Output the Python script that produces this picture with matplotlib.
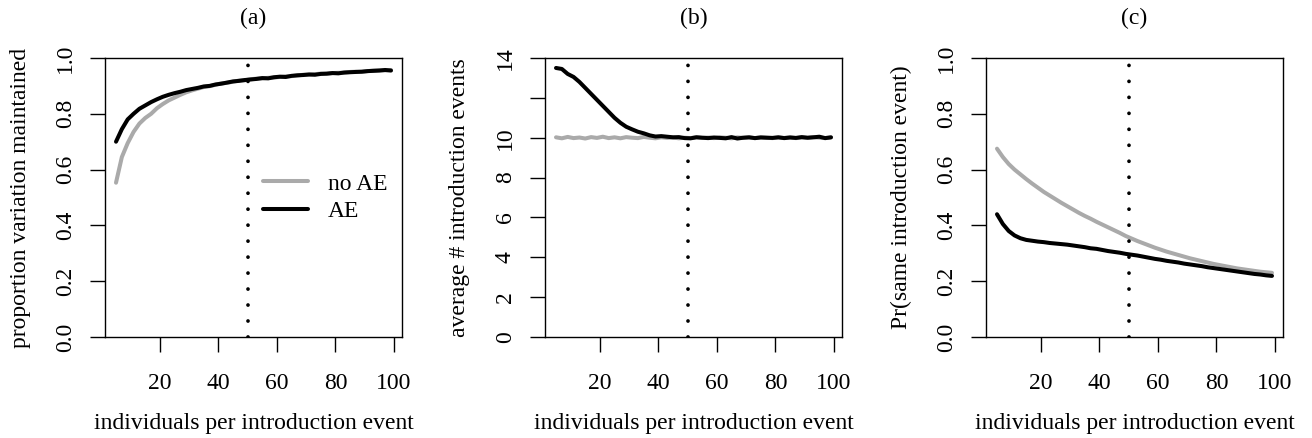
import numpy as np
import matplotlib
matplotlib.use("Agg")
from matplotlib import pyplot as plt

plt.rcParams['font.family'] = ['Liberation Serif', 'DejaVu Serif']

# individuals per introduction event (every 2nd value)
n_ind = list(range(5, 100, 2))

# (a) proportion variation maintained
prop_noae = [0.553, 0.645, 0.695, 0.735, 0.765, 0.785, 0.800, 0.820, 0.835, 0.848,
             0.858, 0.868, 0.877, 0.884, 0.890, 0.896, 0.899, 0.904, 0.909, 0.911,
             0.915, 0.919, 0.920, 0.924, 0.926, 0.927, 0.929, 0.930, 0.932, 0.934,
             0.935, 0.937, 0.940, 0.940, 0.942, 0.944, 0.943, 0.946, 0.947, 0.947,
             0.950, 0.951, 0.950, 0.953, 0.955, 0.956, 0.956, 0.957]
prop_ae = [0.700, 0.745, 0.780, 0.800, 0.818, 0.830, 0.842, 0.852, 0.861, 0.868,
           0.874, 0.879, 0.885, 0.889, 0.893, 0.898, 0.900, 0.905, 0.908, 0.912,
           0.916, 0.918, 0.921, 0.923, 0.925, 0.928, 0.927, 0.931, 0.933, 0.932,
           0.936, 0.938, 0.939, 0.941, 0.940, 0.943, 0.944, 0.946, 0.945, 0.948,
           0.949, 0.950, 0.951, 0.953, 0.954, 0.955, 0.957, 0.955]

# (b) average number of introduction events
events_noae = [10.02, 9.97, 10.04, 9.98, 10.01, 9.96, 10.03, 9.99, 10.05, 9.98,
               10.02, 9.97, 10.03, 10.00, 9.98, 10.04, 10.00, 9.97, 10.02, 9.99,
               10.01, 9.97, 10.00, 9.98, 10.03, 9.99, 10.01, 9.98, 10.02, 10.00,
               9.97, 10.02, 9.99, 10.01, 9.98, 10.03, 10.00, 9.98, 10.01, 9.99,
               10.02, 9.98, 10.01, 9.99, 10.03, 10.00, 9.98, 10.01]
events_ae = [13.50, 13.45, 13.20, 13.05, 12.80, 12.50, 12.20, 11.90, 11.60, 11.30,
             11.00, 10.75, 10.55, 10.42, 10.30, 10.22, 10.12, 10.06, 10.08, 10.05,
             10.02, 10.03, 9.98, 9.97, 10.02, 10.00, 9.98, 10.01, 9.99, 9.97,
             10.03, 9.96, 10.00, 10.02, 9.98, 10.01, 10.00, 9.99, 10.02, 9.98,
             10.01, 9.99, 10.03, 10.00, 10.02, 10.05, 9.98, 10.02]

# (c) Pr(same introduction event)
same_noae = [0.675, 0.645, 0.620, 0.600, 0.583, 0.566, 0.550, 0.535, 0.520, 0.507,
             0.494, 0.481, 0.469, 0.457, 0.445, 0.434, 0.424, 0.413, 0.403, 0.393,
             0.383, 0.373, 0.362, 0.353, 0.344, 0.336, 0.328, 0.320, 0.313, 0.306,
             0.300, 0.294, 0.288, 0.282, 0.277, 0.272, 0.267, 0.262, 0.258, 0.254,
             0.250, 0.246, 0.243, 0.240, 0.237, 0.234, 0.232, 0.230]
same_ae = [0.440, 0.405, 0.380, 0.364, 0.354, 0.348, 0.345, 0.342, 0.340, 0.337,
           0.335, 0.333, 0.331, 0.328, 0.325, 0.322, 0.318, 0.316, 0.312, 0.308,
           0.305, 0.302, 0.298, 0.295, 0.292, 0.288, 0.284, 0.280, 0.277, 0.273,
           0.270, 0.267, 0.263, 0.260, 0.257, 0.254, 0.250, 0.247, 0.244, 0.241,
           0.238, 0.235, 0.232, 0.229, 0.226, 0.224, 0.221, 0.219]

panels = [
    ("(a)", "proportion variation maintained", prop_noae, prop_ae, 1.0,
     [0, 0.2, 0.4, 0.6, 0.8, 1.0], ["0.0", "0.2", "0.4", "0.6", "0.8", "1.0"]),
    ("(b)", "average # introduction events", events_noae, events_ae, 14,
     [0, 2, 4, 6, 8, 10, 12, 14], ["0", "2", "4", "6", "8", "10", "", "14"]),
    ("(c)", "Pr(same introduction event)", same_noae, same_ae, 1.0,
     [0, 0.2, 0.4, 0.6, 0.8, 1.0], ["0.0", "0.2", "0.4", "0.6", "0.8", "1.0"]),
]

fs = 17
W, H = 1312, 438
fig = plt.figure(figsize=(W / 100, H / 100), dpi=100)
lefts = [105, 545, 986]
boxw = 297
boxh = 279
bottom = H - 337

for i, (tag, ylab, noae, ae, ytop, yt, ytl) in enumerate(panels):
    ax = fig.add_axes([lefts[i] / W, bottom / H, boxw / W, boxh / H])
    ax.plot(n_ind, noae, color="#aaaaaa", lw=2.9, label="no AE", solid_capstyle="round")
    ax.plot(n_ind, ae, color="black", lw=2.9, label="AE", solid_capstyle="round")
    ax.axvline(50, color="black", lw=2.7, ls=(0, (0.01, 4.25)), dash_capstyle="round")
    ax.set_xlim(1.24, 102.76)
    ax.set_ylim(0, ytop)
    ax.set_xticks([20, 40, 60, 80, 100])
    ax.set_xticklabels(["20", "40", "60", "80", "100"], fontsize=fs)
    ax.set_yticks(yt)
    ax.set_yticklabels(ytl, fontsize=fs, rotation=90, va="center")
    ax.tick_params(axis="both", length=11, width=1.0, direction="out")
    ax.tick_params(axis="x", pad=15)
    ax.tick_params(axis="y", pad=10)
    for sp in ax.spines.values():
        sp.set_linewidth(1.0)
    ax.text(0.5, 1 + 40 / boxh, tag, transform=ax.transAxes, ha="center", va="center", fontsize=fs)
    ax.text(-85 / boxw, 0.5, ylab, transform=ax.transAxes, ha="center", va="center",
            rotation=90, fontsize=fs)
    ax.text(0.5, -86 / boxh, "individuals per introduction event", transform=ax.transAxes,
            ha="center", va="center", fontsize=fs)
    if i == 0:
        ax.legend(loc="center left", bbox_to_anchor=((263 - 105) / boxw, 0.5), frameon=False,
                  fontsize=fs, handlelength=1.9, handletextpad=0.85, labelspacing=0.25,
                  borderpad=0, borderaxespad=0)

fig.savefig("out.png", dpi=100)
